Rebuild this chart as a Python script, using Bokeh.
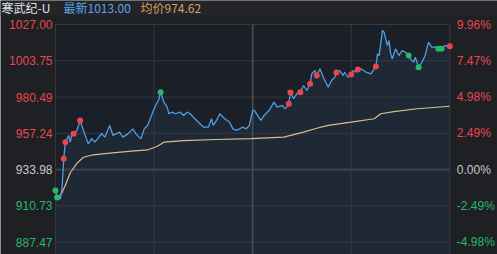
from bokeh.plotting import figure
from bokeh.models import Range1d, ColumnDataSource
from bokeh.embed import file_html
from bokeh.resources import INLINE
from bokeh.core.properties import value

# ---------------- data ----------------
PREV_CLOSE = 933.98
LATEST = 1013.00
AVG_LAST = 974.62
TITLE_NAME = "寒武纪-U"

LEFT_TICKS = [1027.00, 1003.75, 980.49, 957.24, 933.98, 910.73, 887.47]
LEFT_LABELS = ["1027.00", "1003.75", "980.49", "957.24", "933.98", "910.73", "887.47"]
RIGHT_LABELS = ["9.96%", "7.47%", "4.98%", "2.49%", "0.00%", "-2.49%", "-4.98%"]
TIME_TICKS = [0, 60, 120, 180, 240]

MINUTES = [0, 1, 3, 4, 5, 6, 7, 8, 9, 10, 11, 13, 15, 17, 20, 22, 24, 28, 30, 33,
           35, 39, 41, 44, 47, 49, 52, 54, 56, 58, 60, 62, 63, 64, 66, 68, 69, 71, 73, 76,
           78, 80, 82, 84, 87, 90, 93, 95, 96, 98, 100, 103, 106, 108, 110, 112, 114, 116, 118, 120,
           121, 123, 125, 127, 130, 133, 135, 138, 140, 142, 143, 145, 147, 149, 151, 153, 155, 156, 158, 159,
           161, 163, 166, 168, 170, 171, 173, 175, 176, 178, 180, 181, 183, 184, 186, 189, 192, 195, 196, 197,
           199, 200, 202, 203, 204, 205, 207, 209, 211, 213, 215, 216, 218, 219, 221, 223, 225, 227, 229, 231,
           233, 235, 237, 240]
PRICES = [920.6, 916.1, 915.3, 922.7, 940.9, 951.6, 953.7, 955.9, 951.6, 956.9,
          956.9, 959.1, 965.5, 959.1, 950.5, 953.9, 951.6, 957.1, 954.8, 962.3,
          955.9, 958.0, 954.8, 956.9, 960.1, 956.9, 953.7, 960.1, 962.3, 967.6,
          973.0, 977.2, 979.4, 983.6, 977.2, 974.0, 969.8, 970.8, 969.8, 970.8,
          968.7, 970.8, 969.8, 967.6, 964.4, 961.2, 961.2, 966.6, 962.3, 965.5,
          969.8, 966.6, 964.4, 960.1, 959.1, 960.1, 961.2, 960.1, 962.3, 971.9,
          971.9, 968.7, 965.5, 968.7, 971.9, 977.2, 974.0, 975.1, 973.0, 976.2,
          983.4, 979.4, 982.8, 983.6, 987.9, 984.7, 989.0, 995.4, 997.5, 994.3,
          998.6, 993.2, 986.8, 991.1, 993.2, 996.2, 997.5, 994.3, 996.4, 993.2,
          995.0, 997.5, 996.4, 998.2, 998.6, 996.4, 995.4, 1000.1, 1008.2, 1007.1,
          1023.2, 1022.1, 1013.5, 1016.7, 1008.2, 1005.0, 1011.4, 1007.1, 1010.3, 1009.2,
          1007.1, 1005.0, 1002.8, 1006.0, 999.6, 1002.8, 1007.1, 1015.7, 1012.5, 1012.5,
          1011.4, 1011.4, 1013.5, 1013.0]

AVG_MINUTES = [1, 2, 4, 6, 9, 13, 17, 23, 33, 48, 56, 62, 66, 78, 98, 119, 139, 151, 159, 166,
               180, 194, 198, 206, 220, 240]
AVG_PRICES = [914.8, 916.3, 919.3, 924.0, 932.0, 938.0, 941.9, 943.5, 944.6, 946.0,
              946.6, 949.0, 951.6, 952.6, 953.3, 953.9, 954.8, 958.0, 960.5, 962.3,
              964.4, 966.6, 969.8, 971.2, 973.0, 974.62]

RED_DOT_MINUTES = [5, 6, 11, 15, 142, 143, 149, 155, 159, 171, 180, 184, 195, 240]
GREEN_DOT_MINUTES = [0, 1, 64, 215, 221, 233, 235]

# ---------------- styling ----------------
W, H = 497, 254
X0_PX, X1_PX = 55.0, 449.3        # pixel positions of minute 0 and 240
Y_TOP_PX, Y_BOT_PX = 24.0, 241.7  # pixel positions of 1027.00 and 887.47
px_per_min = (X1_PX - X0_PX) / 240.0
px_per_val = (Y_BOT_PX - Y_TOP_PX) / (LEFT_TICKS[0] - LEFT_TICKS[-1])
x_start = -X0_PX / px_per_min
x_end = x_start + W / px_per_min
y_end = LEFT_TICKS[0] + Y_TOP_PX / px_per_val
y_start = y_end - H / px_per_val

BG = "#1e2024"
FRAME_BG = "#1b2028"
GRID = "#343941"
RED = "#e8464e"
GREEN = "#27b86a"
GRAY = "#c9c9c9"
BLUE = "#4e9ee3"
AVG_COL = "#d9bd8c"

p = figure(width=W, height=H, output_backend="svg", toolbar_location=None,
           x_range=Range1d(x_start, x_end), y_range=Range1d(y_start, y_end),
           min_border=0, min_border_left=0, min_border_right=0,
           min_border_top=0, min_border_bottom=0)
p.axis.visible = False
p.grid.visible = False
p.outline_line_color = None
p.background_fill_color = BG
p.border_fill_color = BG

# title bar
p.quad(left=x_start, right=x_end, bottom=y_end - 15 / px_per_val, top=y_end,
       fill_color="#232428", line_color=None)

# plot frame
p.quad(left=TIME_TICKS[0], right=TIME_TICKS[-1], bottom=y_start, top=LEFT_TICKS[0],
       fill_color=FRAME_BG, line_color=None)

# area under price
p.varea(x=MINUTES, y1=PRICES, y2=[y_start] * len(PRICES),
        fill_color="#27384d", fill_alpha=0.35)

# horizontal grid
for v in LEFT_TICKS:
    is_zero = abs(v - PREV_CLOSE) < 1e-6
    p.segment(x0=TIME_TICKS[0], x1=TIME_TICKS[-1], y0=v, y1=v,
              line_color="#3b4049" if is_zero else GRID,
              line_width=2.2 if is_zero else 1)
# vertical grid
for t in TIME_TICKS:
    p.segment(x0=t, x1=t, y0=y_start, y1=LEFT_TICKS[0],
              line_color="#474c55" if t == 120 else GRID,
              line_width=1.6 if t == 120 else 1)

# average line
p.line(AVG_MINUTES, AVG_PRICES, line_color=AVG_COL, line_width=1.2)
# price line
p.line(MINUTES, PRICES, line_color=BLUE, line_width=1.3)

lookup = dict(zip(MINUTES, PRICES))
p.scatter([m for m in RED_DOT_MINUTES], [lookup[m] for m in RED_DOT_MINUTES],
          size=6, fill_color=RED, line_color=None)
p.scatter([m for m in GREEN_DOT_MINUTES], [lookup[m] for m in GREEN_DOT_MINUTES],
          size=6, fill_color=GREEN, line_color=None)

# axis labels
def col_for(v):
    if abs(v - PREV_CLOSE) < 1e-6:
        return GRAY
    return RED if v > PREV_CLOSE else GREEN

cols = [col_for(v) for v in LEFT_TICKS]
src_l = ColumnDataSource(dict(x=[TIME_TICKS[0]] * len(LEFT_TICKS), y=LEFT_TICKS,
                              t=LEFT_LABELS, c=cols))
p.text(x="x", y="y", text="t", text_color="c", source=src_l, x_offset=-3,
       text_align="right", text_baseline="middle", text_font_size="12px",
       text_font=value("Liberation Sans"))
src_r = ColumnDataSource(dict(x=[TIME_TICKS[-1]] * len(LEFT_TICKS), y=LEFT_TICKS,
                              t=RIGHT_LABELS, c=cols))
p.text(x="x", y="y", text="t", text_color="c", source=src_r, x_offset=7,
       text_align="left", text_baseline="middle", text_font_size="12px",
       text_font=value("Liberation Sans"))

# header texts
ty = y_end - 7 / px_per_val
p.text(x=[x_start], y=[ty], text=[TITLE_NAME], x_offset=1, text_color="#e4e4e4",
       text_baseline="middle", text_font_size="12px", text_font=value("Noto Sans CJK SC"))
p.text(x=[x_start], y=[ty], text=["最新%.2f" % LATEST], x_offset=63, text_color="#5aa2e8",
       text_baseline="middle", text_font_size="12px", text_font=value("Noto Sans CJK SC"))
p.text(x=[x_start], y=[ty], text=["均价%.2f" % AVG_LAST], x_offset=140, text_color="#d6a15c",
       text_baseline="middle", text_font_size="12px", text_font=value("Noto Sans CJK SC"))

open("out.html", "w").write(file_html(p, INLINE))
